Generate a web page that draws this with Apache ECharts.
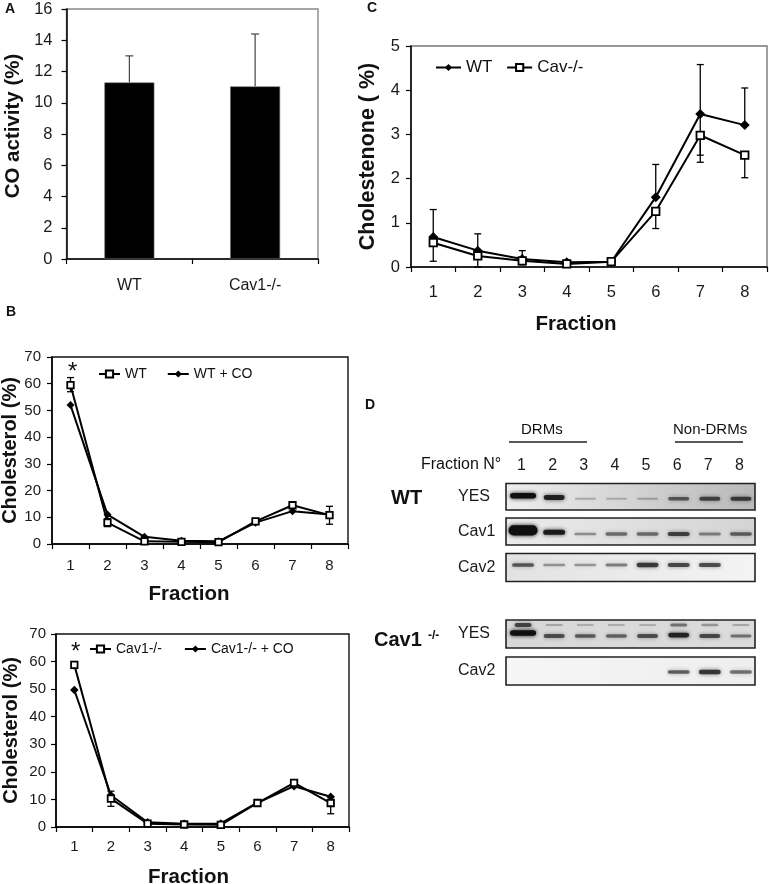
<!DOCTYPE html>
<html>
<head>
<meta charset="utf-8">
<style>html,body{margin:0;padding:0;background:#fff}#c{width:769px;height:884px}</style>
<script src="https://cdn.jsdelivr.net/npm/echarts@6/dist/echarts.min.js"></script>
</head>
<body>
<div id="c"></div>
<script>
// ---------- data ----------
const fractions = ['1','2','3','4','5','6','7','8'];

const aCategories = ['WT','Cav1-/-'];
const aValues = [11.3, 11.05];
const aUpper = [13.0, 14.4];

const bWT = [59.5, 8, 1, 0.8, 0.7, 8.5, 14.5, 10.8];
const bWTUp = [62.3, 9.5, 2, 1.2, 1.2, 9.5, 15.5, 14.1];
const bWTDown = [57, 6.5, 0.5, 0.4, 0.3, 7.5, 13.5, 7.4];
const bWTCO = [52, 11, 2.7, 1.2, 1, 8, 12.3, 11];

const b2KO = [58.8, 10.3, 1.2, 0.9, 0.8, 8.7, 16, 8.7];
const b2KOUp = [60, 13, 1.8, 1.4, 1.4, 9.8, 17, 11];
const b2KODown = [57.5, 7.5, 0.7, 0.5, 0.4, 7.8, 15, 4.8];
const b2KOCO = [49.7, 11.5, 1.7, 1.2, 1.3, 8.8, 14.8, 11];

const cWT = [0.68, 0.37, 0.18, 0.11, 0.12, 1.58, 3.46, 3.21];
const cWTUp = [1.3, 0.75, 0.37, 0.15, 0.15, 2.32, 4.58, 4.05];
const cWTDown = [null, null, null, null, null, null, 2.53, null];
const cKO = [0.55, 0.25, 0.14, 0.07, 0.12, 1.26, 2.98, 2.53];
const cKOUp = [null, null, null, null, null, null, null, null];
const cKODown = [0.13, 0, 0.05, 0.03, 0.08, 0.87, 2.37, 2.02];

// blot band intensities (0-1) per fraction
const blotYesWT = [0.95, 0.8, 0.14, 0.11, 0.15, 0.5, 0.58, 0.62];
const blotCav1WT = [1, 0.85, 0.28, 0.42, 0.42, 0.62, 0.32, 0.48];
const blotCav2WT = [0.52, 0.26, 0.25, 0.35, 0.66, 0.6, 0.58, 0];
const blotYesKO = [0.95, 0.55, 0.5, 0.45, 0.55, 0.78, 0.58, 0.38];
const blotYesKOUpper = [0.6, 0.14, 0.1, 0.1, 0.1, 0.38, 0.22, 0.14];
const blotCav2KO = [0, 0, 0, 0, 0, 0.5, 0.68, 0.42];
// ---------- end data ----------

const FONT = '"Liberation Sans", Arial, sans-serif';
const INK = '#1a1a1a';

function zip2(up, down) {
  return fractions.map((_, i) => [i, up[i] == null ? NaN : up[i], down[i] == null ? NaN : down[i]]);
}
function errorSeries(gi, data, capW, color, width, base) {
  return {
    type: 'custom', xAxisIndex: gi, yAxisIndex: gi, z: 1, silent: true, clip: false,
    data: data,
    renderItem(params, api) {
      const x = api.value(0), up = api.value(1), dn = api.value(2);
      const kids = [];
      const st = { stroke: color, lineWidth: width, fill: null };
      const mid = api.coord([x, base[x]]);
      [up, dn].forEach(v => {
        if (isNaN(v)) return;
        const p = api.coord([x, v]);
        kids.push({ type: 'line', shape: { x1: p[0], y1: mid[1], x2: p[0], y2: p[1] }, style: st });
        kids.push({ type: 'line', shape: { x1: p[0] - capW / 2, y1: p[1], x2: p[0] + capW / 2, y2: p[1] }, style: st });
      });
      return { type: 'group', children: kids };
    }
  };
}
function lineSeries(gi, name, data, kind, size) {
  const square = kind === 'square';
  return {
    type: 'line', name, data, xAxisIndex: gi, yAxisIndex: gi, z: square ? 4 : 3, silent: true,
    symbol: square ? 'rect' : 'diamond', symbolSize: size, showSymbol: true, clip: false,
    lineStyle: { color: '#000', width: 2 },
    itemStyle: { color: square ? '#fff' : '#000', borderColor: '#000', borderWidth: square ? 1.8 : 0, opacity: 1 }
  };
}
function chartGrid(left, right, top, bottom, border) {
  return { left, top, width: right - left, height: bottom - top, show: true, outerBoundsMode: 'none',
    borderColor: border, borderWidth: 1.4, backgroundColor: 'transparent' };
}
function xCat(gi, data, fs, margin, name, pad, gap) {
  return {
    type: 'category', gridIndex: gi, data, boundaryGap: true,
    axisLine: { lineStyle: { color: '#000', width: 1.5 }, onZero: false },
    axisTick: { show: true, alignWithLabel: false, length: 5, lineStyle: { color: '#000', width: 1.2 } },
    axisLabel: { fontFamily: FONT, fontSize: fs, color: INK, margin, interval: 0 },
    splitLine: { show: false },
    name, nameLocation: 'middle', nameGap: gap,
    nameTextStyle: { fontFamily: FONT, fontSize: 20.5, fontWeight: 'bold', color: '#111', padding: pad }
  };
}
function yVal(gi, max, interval, fs, margin, name, gap, pad, nameSize) {
  return {
    type: 'value', gridIndex: gi, min: 0, max, interval,
    axisLine: { show: true, lineStyle: { color: '#000', width: 1.5 }, onZero: false },
    axisTick: { show: true, length: 5, lineStyle: { color: '#000', width: 1.2 } },
    axisLabel: { fontFamily: FONT, fontSize: fs, color: INK, margin },
    splitLine: { show: false },
    name, nameLocation: 'middle', nameGap: gap, nameRotate: 90,
    nameTextStyle: { fontFamily: FONT, fontSize: nameSize, fontWeight: 'bold', color: '#111', padding: pad }
  };
}
function laneGrid(top, bottom, bg) {
  return { left: 506, width: 249, top, height: bottom - top, show: true, outerBoundsMode: 'none',
    borderColor: '#222', borderWidth: 1.6, backgroundColor: bg };
}
function hgrad(a, b) {
  return { type: 'linear', x: 0, y: 0, x2: 1, y2: 0, colorStops: [{ offset: 0, color: a }, { offset: 1, color: b }] };
}
function laneX(gi, showLabels) {
  return {
    type: 'category', gridIndex: gi, data: fractions, position: 'top', boundaryGap: true,
    axisLine: { show: false }, axisTick: { show: false }, splitLine: { show: false },
    axisLabel: { show: showLabels, fontFamily: FONT, fontSize: 16, color: INK, margin: 10, interval: 0 }
  };
}
function laneY(gi, label, pad) {
  return {
    type: 'category', gridIndex: gi, data: [label], axisLine: { show: false }, axisTick: { show: false },
    axisLabel: { fontFamily: FONT, fontSize: 16, color: INK, align: 'left', margin: 48, padding: pad }
  };
}
function bandSeries(gi, values, offset, widthPx) {
  return {
    type: 'custom', xAxisIndex: gi, yAxisIndex: gi, silent: true, z: 2,
    data: values.map((v, i) => [i, 0, v]),
    renderItem(params, api) {
      const v = api.value(2);
      if (!v) return { type: 'group', children: [] };
      const p = api.coord([api.value(0), 0]);
      const big = v >= 1;
      const w = widthPx + (v > 0.9 ? 5 : 0) + (big ? 2 : 0);
      const h = 1.5 + v * 4.2 + (big ? 4.5 : 0);
      const yc = p[1] + offset + (v > 0.7 ? -3 * (v - 0.7) * 4 : 0);
      const alpha = Math.min(1, 0.12 + v * 0.92);
      return {
        type: 'rect',
        shape: { x: p[0] + 1.5 - w / 2, y: yc - h / 2, width: w, height: h, r: h / 2 },
        style: { fill: 'rgba(15,15,15,' + alpha + ')', shadowBlur: 4, shadowColor: 'rgba(20,20,20,' + alpha + ')' }
      };
    }
  };
}
function txt(x, y, text, size, bold, extra) {
  return { type: 'text', x, y, silent: true, style: Object.assign({
    text, fontFamily: FONT, fontSize: size, fontWeight: bold ? 'bold' : 'normal', fill: '#111',
    textAlign: 'left', textVerticalAlign: 'middle' }, extra || {}) };
}
function rule(x1, x2, y) {
  return { type: 'line', silent: true, shape: { x1, y1: y, x2, y2: y }, style: { stroke: '#222', lineWidth: 1.3 } };
}
function legendAt(left, top, names, fs, w, gap) {
  return { left, top, data: names, orient: 'horizontal', itemWidth: w, itemHeight: 9, itemGap: gap,
    selectedMode: false, textStyle: { fontFamily: FONT, fontSize: fs, color: '#111' }, padding: 0 };
}

const grids = [
  chartGrid(66.5, 318, 9, 259, '#888'),
  chartGrid(52, 348, 357, 544, '#111'),
  chartGrid(56, 349, 634, 827, '#111'),
  chartGrid(411, 767, 46, 267, '#777'),
  laneGrid(483.5, 510, hgrad('#eeeeee', '#b9b9b9')),
  laneGrid(518, 545, hgrad('#ebebeb', '#d4d4d4')),
  laneGrid(553.5, 581.5, hgrad('#e2e2e2', '#f4f4f4')),
  laneGrid(620, 648, hgrad('#d8d8d8', '#dcdcdc')),
  laneGrid(657, 685, hgrad('#f6f6f6', '#eeeeee'))
];
const xAxes = [
  xCat(0, aCategories, 16, 19, '', 0, 0),
  xCat(1, fractions, 15, 14, 'Fraction', [0, 22, 0, 0], 40),
  xCat(2, fractions, 15, 12, 'Fraction', [0, 28, 0, 0], 40),
  xCat(3, fractions, 16.5, 17, 'Fraction', [0, 26, 0, 0], 47),
  laneX(4, true), laneX(5, false), laneX(6, false), laneX(7, false), laneX(8, false)
];
const yAxes = [
  yVal(0, 16, 2, 16.5, 14, 'CO activity (%)', 43, [0, 0, 0, 16], 20.5),
  yVal(1, 70, 10, 15, 11, 'Cholesterol (%)', 31, 0, 20),
  yVal(2, 70, 10, 15, 10, 'Cholesterol (%)', 35, 0, 20),
  yVal(3, 5, 1, 16.5, 11, 'Cholestenone ( %)', 32, 0, 21.5),
  laneY(4, 'YES', [8, 0, 0, 0]), laneY(5, 'Cav1', [4, 0, 0, 0]), laneY(6, 'Cav2', [2, 0, 0, 0]),
  laneY(7, 'YES', [8, 0, 0, 0]), laneY(8, 'Cav2', [0, 0, 4, 0])
];

const series = [
  { type: 'bar', data: aValues, xAxisIndex: 0, yAxisIndex: 0, barWidth: 50, silent: true, z: 2,
    itemStyle: { color: '#000', borderColor: '#777', borderWidth: 0.6 } },
  errorSeries(0, aUpper.map((u, i) => [i, u, NaN]), 8, '#444', 1.2, aValues),

  errorSeries(1, zip2(bWTUp, bWTDown), 7, '#000', 1.3, bWT),
  lineSeries(1, 'WT', bWT, 'square', 6.5),
  lineSeries(1, 'WT + CO', bWTCO, 'diamond', 8),

  errorSeries(2, zip2(b2KOUp, b2KODown), 7, '#000', 1.3, b2KO),
  lineSeries(2, 'Cav1-/-', b2KO, 'square', 6.5),
  lineSeries(2, 'Cav1-/- + CO', b2KOCO, 'diamond', 8.5),

  errorSeries(3, zip2(cWTUp, cWTDown), 7, '#000', 1.3, cWT),
  errorSeries(3, zip2(cKOUp, cKODown), 7, '#000', 1.3, cKO),
  lineSeries(3, 'WT ', cWT, 'diamond', 10),
  lineSeries(3, 'Cav-/-', cKO, 'square', 7.5),

  bandSeries(4, blotYesWT, 2, 21),
  bandSeries(5, blotCav1WT, 2.5, 22),
  bandSeries(6, blotCav2WT, -2.5, 22),
  bandSeries(7, blotYesKO, 2, 21),
  bandSeries(7, blotYesKOUpper, -9, 17),
  bandSeries(8, blotCav2KO, 1, 22)
];

const option = {
  animation: false,
  backgroundColor: '#fff',
  grid: grids, xAxis: xAxes, yAxis: yAxes, series,
  legend: [
    legendAt(98, 367, ['WT', 'WT + CO'], 14, 21, 20),
    legendAt(89, 642, ['Cav1-/-', 'Cav1-/- + CO'], 14, 21, 22),
    legendAt(435, 59, ['WT ', 'Cav-/-'], 17, 25, 9)
  ],
  graphic: [
    txt(5, 9, 'A', 14, true),
    txt(6, 312, 'B', 14, true),
    txt(367, 8, 'C', 14, true),
    txt(365, 405, 'D', 14, true),
    txt(68, 372, '*', 24, false),
    txt(71, 652, '*', 24, false),
    txt(521, 430, 'DRMs', 15, false),
    txt(673, 430, 'Non-DRMs', 15, false),
    rule(509, 587, 442),
    rule(675, 743, 442),
    txt(421, 465, 'Fraction N°', 16, false),
    txt(391, 498, 'WT', 20, true),
    txt(374, 640, 'Cav1', 20, true),
    txt(428, 636, '-/-', 12, true)
  ]
};
const chart = echarts.init(document.getElementById('c'), null, { renderer: 'canvas', width: 769, height: 884 });
chart.setOption(option);
</script>
</body>
</html>
